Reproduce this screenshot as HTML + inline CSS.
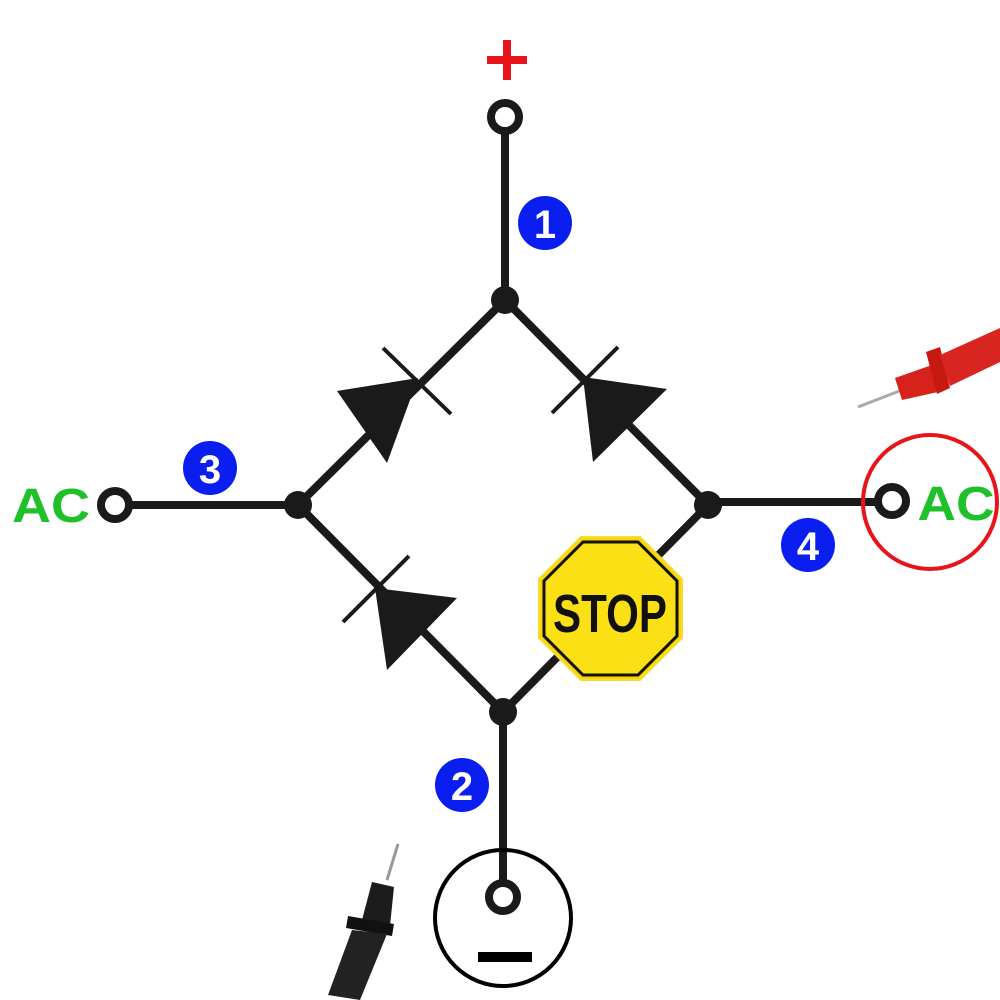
<!DOCTYPE html>
<html><head><style>html,body{margin:0;padding:0;background:#fff}svg{display:block}</style></head><body>
<svg width="1000" height="1000" viewBox="0 0 1000 1000" xmlns="http://www.w3.org/2000/svg">
<g stroke="#1a1a1a" stroke-width="8" fill="none" stroke-linecap="round">
<line x1="505" y1="132" x2="505" y2="300"/>
<line x1="505" y1="300" x2="298" y2="505"/>
<line x1="505" y1="300" x2="708" y2="505"/>
<line x1="298" y1="505" x2="503" y2="712"/>
<line x1="708" y1="505" x2="503" y2="712"/>
<line x1="130" y1="505" x2="298" y2="505"/>
<line x1="708" y1="502" x2="877" y2="502"/>
<line x1="503" y1="712" x2="503" y2="882"/>
<circle cx="505" cy="117" r="14"/>
<circle cx="115" cy="505" r="14"/>
<circle cx="892" cy="501" r="14"/>
<circle cx="503" cy="897" r="14"/>
</g>
<g fill="#1a1a1a">
<circle cx="505" cy="300" r="14"/><circle cx="298" cy="505" r="14"/>
<circle cx="708" cy="505" r="14"/><circle cx="503" cy="712" r="14"/>
<polygon points="337,391 387,463 418,378"/>
<polygon points="667,389 593,462 583,377"/>
<polygon points="457,598 387,670 375,588"/>
</g>
<g stroke="#1a1a1a" stroke-width="4">
<line x1="383" y1="348" x2="451" y2="414"/>
<line x1="618" y1="347" x2="552" y2="413"/>
<line x1="409" y1="556" x2="343" y2="622"/>
</g>
<polygon points="581,537 640,537 682,579 682,638 640,680 581,680 539,638 539,579" fill="#f9d800" stroke="#f4dc30" stroke-width="2"/>
<polygon points="583,542 638,542 677,581 677,636 638,675 583,675 544,636 544,581" fill="#fce016" stroke="#111" stroke-width="3"/>
<text x="610" y="632" font-family="Liberation Sans Narrow, Liberation Sans, sans-serif" font-weight="bold" font-size="54" text-anchor="middle" fill="#111" textLength="114" lengthAdjust="spacingAndGlyphs">STOP</text>
<g fill="#e8141b">
<rect x="487" y="56" width="40" height="8"/>
<rect x="503" y="40" width="8" height="40"/>
</g>
<text x="51" y="522" font-family="Liberation Sans, sans-serif" font-weight="bold" font-size="48" text-anchor="middle" fill="#1fc02a" textLength="78" lengthAdjust="spacingAndGlyphs">AC</text>
<text x="956" y="520" font-family="Liberation Sans, sans-serif" font-weight="bold" font-size="48" text-anchor="middle" fill="#1fc02a" textLength="77" lengthAdjust="spacingAndGlyphs">AC</text>
<circle cx="930" cy="502" r="67" fill="none" stroke="#e8141b" stroke-width="4"/>
<circle cx="503" cy="918" r="68" fill="none" stroke="#000" stroke-width="4"/>
<rect x="478" y="952" width="54" height="10" fill="#000"/>
<g font-family="Liberation Sans, sans-serif" font-weight="bold" font-size="40" text-anchor="middle" fill="#fff">
<circle cx="545" cy="223" r="27" fill="#0a1ef0"/><text x="545" y="238">1</text>
<circle cx="462" cy="785" r="27" fill="#0a1ef0"/><text x="462" y="800">2</text>
<circle cx="210" cy="468" r="27" fill="#0a1ef0"/><text x="210" y="483">3</text>
<circle cx="808" cy="545" r="27" fill="#0a1ef0"/><text x="808" y="560">4</text>
</g>
<g>
<line x1="858" y1="407" x2="902" y2="390" stroke="#aaa" stroke-width="3"/>
<polygon points="895,378 932,365 938,392 902,400" fill="#d7221c"/>
<polygon points="926,352 940,347 950,388 937,394" fill="#c81812"/>
<polygon points="940,355 1000,328 1000,362 950,386" fill="#d9251f"/>
</g>
<g>
<line x1="398" y1="844" x2="387" y2="880" stroke="#999" stroke-width="3"/>
<polygon points="372,882 394,887 390,926 362,920" fill="#1c1c1c"/>
<polygon points="348,916 394,924 392,936 346,928" fill="#111"/>
<polygon points="352,930 387,934 360,1000 328,995" fill="#222"/>
</g>
</svg>
</body></html>
